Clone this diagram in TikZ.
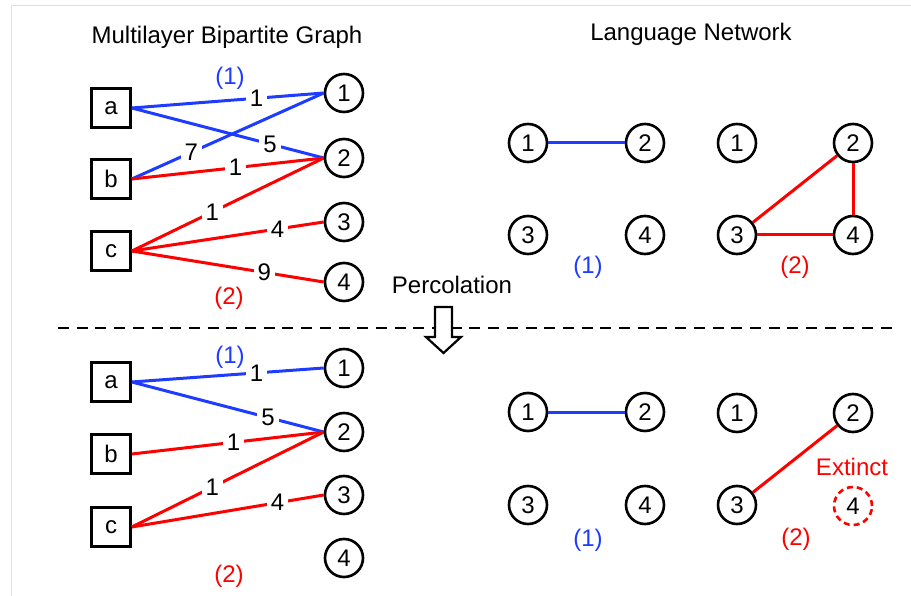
\documentclass[tikz,border=0pt]{standalone}
\usepackage{fontspec}
\setmainfont{Liberation Sans}
\definecolor{lblue}{RGB}{30,60,255}
\definecolor{lred}{RGB}{255,0,0}
\begin{document}
\begin{tikzpicture}[x=1pt,y=-1pt,
  every node/.style={font=\fontsize{24}{28}\selectfont},
  sq/.style={draw,line width=2.6pt,minimum width=39pt,minimum height=39pt,inner sep=0pt},
  cn/.style={draw,circle,line width=2.6pt,minimum size=38pt,inner sep=0pt},
  be/.style={draw=lblue,line width=3pt},
  re/.style={draw=lred,line width=3pt},
  wl/.style={fill=white,inner xsep=4pt,inner ysep=1pt,text=black},
  bt/.style={text=lblue},
  rt/.style={text=lred}]
\useasboundingbox (0,0) rectangle (911,596);
\draw[black!12,line width=0.8pt] (11,596) -- (11,5) -- (911,5);
% titles
\node (t1) at (227,37) {Multilayer Bipartite Graph};
\node (t2) at (691,34) {Language Network};
% ---------- top bipartite ----------
\node[sq] (ta) at (111,108) {a};
\node[sq] (tb) at (111,179) {b};
\node[sq] (tc) at (111,251) {c};
\node[cn] (t1n) at (344,93) {1};
\node[cn] (t2n) at (344,158) {2};
\node[cn] (t3n) at (344,222) {3};
\node[cn] (t4n) at (344,282) {4};
\draw[be] (ta.east) -- node[wl,pos=0.65] {1} (t1n.west);
\draw[be] (ta.east) -- node[wl,pos=0.72] {5} (t2n.west);
\draw[be] (tb.east) -- node[wl,pos=0.31] {7} (t1n.west);
\draw[re] (tb.east) -- node[wl,pos=0.54] {1} (t2n.west);
\draw[re] (tc.east) -- node[wl,pos=0.42] {1} (t2n.west);
\draw[re] (tc.east) -- node[wl,pos=0.76] {4} (t3n.west);
\draw[re] (tc.east) -- node[wl,pos=0.69] {9} (t4n.west);
\node[bt] (tl1) at (230,78) {(1)};
\node[rt] (tl2) at (229,298) {(2)};
% ---------- top language networks ----------
\node[cn] (p1) at (528,143) {1};
\node[cn] (p2) at (645,143) {2};
\node[cn] (p3) at (528,235) {3};
\node[cn] (p4) at (645,235) {4};
\draw[be] (p1) -- (p2);
\node[bt] (pl) at (588,267) {(1)};
\node[cn] (q1) at (737,143) {1};
\node[cn] (q2) at (853,143) {2};
\node[cn] (q3) at (737,235) {3};
\node[cn] (q4) at (853,235) {4};
\draw[re] (q2) -- (q3);
\draw[re] (q2) -- (q4);
\draw[re] (q3) -- (q4);
\node[rt] (ql) at (795,267) {(2)};
% ---------- separator ----------
\node (perc) at (452,285) {Percolation};
\coordinate (dl) at (58,328);
\coordinate (dr) at (892,328);
\draw[line width=2.8pt,dash pattern=on 11pt off 7.7pt] (dl) -- (dr);
\draw[line width=2.2pt,fill=white] (435,307) -- (452,307) -- (452,337) -- (461,337) -- (443.5,353) -- (426,337) -- (435,337) -- cycle;
% ---------- bottom bipartite ----------
\node[sq] (ba) at (111,382) {a};
\node[sq] (bb) at (111,454) {b};
\node[sq] (bc) at (111,527) {c};
\node[cn] (b1n) at (344,368) {1};
\node[cn] (b2n) at (344,432) {2};
\node[cn] (b3n) at (344,495) {3};
\node[cn] (b4n) at (344,558) {4};
\draw[be] (ba.east) -- node[wl,pos=0.65] {1} (b1n.west);
\draw[be] (ba.east) -- node[wl,pos=0.71] {5} (b2n.west);
\draw[re] (bb.east) -- node[wl,pos=0.53] {1} (b2n.west);
\draw[re] (bc.east) -- node[wl,pos=0.42] {1} (b2n.west);
\draw[re] (bc.east) -- node[wl,pos=0.76] {4} (b3n.west);
\node[bt] (bl1) at (230,357) {(1)};
\node[rt] (bl2) at (229,576) {(2)};
% ---------- bottom language networks ----------
\node[cn] (r1) at (528,412) {1};
\node[cn] (r2) at (645,412) {2};
\node[cn] (r3) at (528,505) {3};
\node[cn] (r4) at (645,505) {4};
\draw[be] (r1) -- (r2);
\node[bt] (rl) at (588,540) {(1)};
\node[cn] (s1) at (737,413) {1};
\node[cn] (s2) at (853,413) {2};
\node[cn] (s3) at (737,505) {3};
\node[cn,draw=lred,dash pattern=on 6pt off 4pt] (s4) at (853,506) {4};
\draw[re] (s2) -- (s3);
\node[rt] (ext) at (852,467) {Extinct};
\node[rt] (sl) at (796,539) {(2)};
\end{tikzpicture}
\end{document}
